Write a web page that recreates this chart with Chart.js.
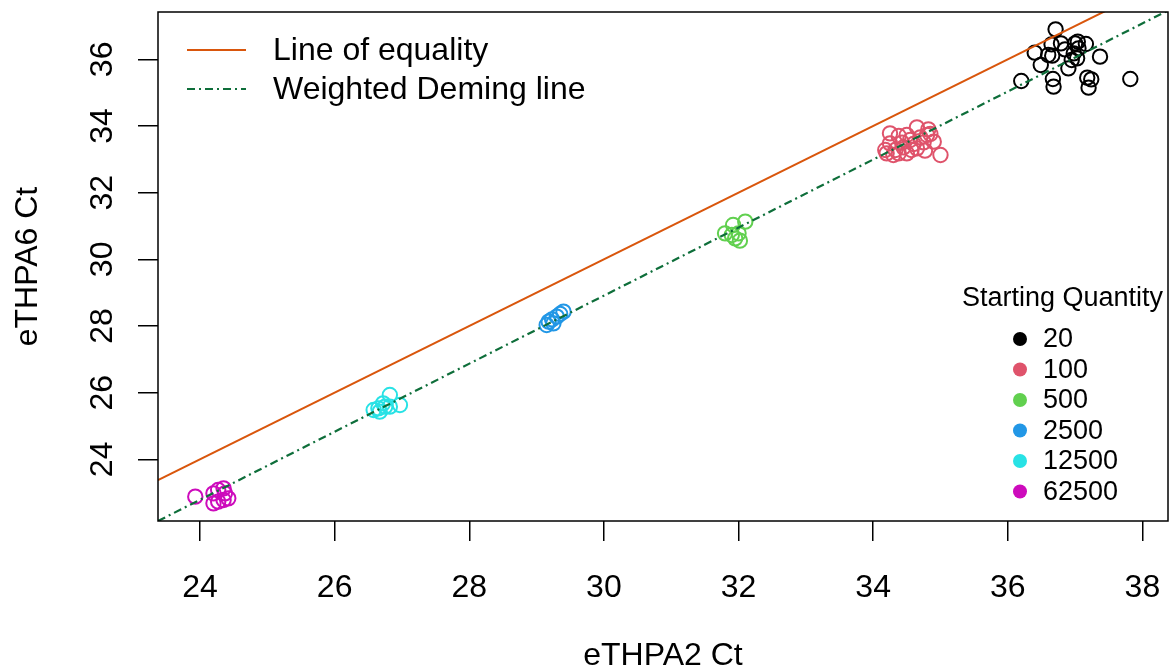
<!DOCTYPE html>
<html>
<head>
<meta charset="utf-8">
<script src="https://cdn.jsdelivr.net/npm/chart.js@4"></script>
<style>
  html, body { margin: 0; padding: 0; background: #fff; overflow: hidden; }
  canvas { display: block; }
</style>
</head>
<body>
<canvas id="ctChart" width="1170" height="672"></canvas>
<script>
const FONT = '"Liberation Sans", Arial, Helvetica, sans-serif';

// Ct values per starting quantity (eTHPA2 on x, eTHPA6 on y)
const quantities = ['20', '100', '500', '2500', '12500', '62500'];
const q20X = [36.71, 36.65, 36.79, 36.40, 36.60, 36.66, 36.85, 37.00, 37.04, 37.16, 37.05, 36.98, 37.03, 36.95, 37.37, 36.49, 36.90, 36.20, 36.67, 36.68, 37.18, 37.24, 37.20, 37.82];
const q20Y = [36.90, 36.45, 36.48, 36.20, 36.13, 36.11, 36.30, 36.48, 36.53, 36.46, 36.33, 36.18, 36.03, 35.98, 36.08, 35.83, 35.73, 35.35, 35.41, 35.18, 35.45, 35.40, 35.15, 35.41];
const q100X = [35.00, 34.65, 34.82, 34.85, 34.25, 34.38, 34.50, 34.70, 34.55, 34.43, 34.25, 34.18, 34.33, 34.45, 34.60, 34.75, 34.65, 34.50, 34.30, 34.77, 34.90, 34.20, 34.38, 34.57, 34.80];
const q100Y = [33.13, 33.96, 33.90, 33.76, 33.78, 33.70, 33.73, 33.66, 33.58, 33.50, 33.48, 33.28, 33.28, 33.36, 33.46, 33.51, 33.33, 33.18, 33.13, 33.26, 33.53, 33.18, 33.18, 33.28, 33.73];
const q500X = [31.80, 31.92, 32.10, 32.00, 31.95, 32.02, 31.90];
const q500Y = [30.78, 31.03, 31.13, 30.78, 30.63, 30.56, 30.73];
const q2500X = [29.18, 29.23, 29.30, 29.35, 29.40, 29.25, 29.15];
const q2500Y = [28.13, 28.20, 28.28, 28.36, 28.43, 28.08, 28.03];
const q12500X = [26.58, 26.65, 26.72, 26.82, 26.97, 26.82, 26.67, 26.75];
const q12500Y = [25.48, 25.53, 25.68, 25.93, 25.63, 25.58, 25.43, 25.58];
const q62500X = [23.93, 24.20, 24.27, 24.35, 24.37, 24.42, 24.27, 24.20, 24.35];
const q62500Y = [22.88, 22.98, 23.08, 23.13, 22.98, 22.83, 22.73, 22.68, 22.78];

const xTicks = [24, 26, 28, 30, 32, 34, 36, 38];
const yTicks = [24, 26, 28, 30, 32, 34, 36];

// weighted Deming fit: eTHPA6 = intercept + slope * eTHPA2
const demingIntercept = -1.71;
const demingSlope = 1.0207;

const xMin = 23.376, xMax = 38.38;
const yMin = 22.15, yMax = 37.42;

const qtyColors = ['#000000', '#DF536B', '#61D04F', '#2297E6', '#28E2E5', '#CD0BBC'];
const eqColor = '#D9560C';
const demingColor = '#0E6E3A';

const groupsX = [q20X, q100X, q500X, q2500X, q12500X, q62500X];
const groupsY = [q20Y, q100Y, q500Y, q2500Y, q12500Y, q62500Y];

const pointSets = quantities.map((q, i) => ({
  type: 'scatter',
  label: q,
  data: groupsX[i].map((x, j) => ({ x: x, y: groupsY[i][j] })),
  borderColor: qtyColors[i],
  backgroundColor: 'rgba(0,0,0,0)',
  borderWidth: 2,
  pointRadius: 7.2,
  pointHoverRadius: 7.2
}));

const lineSets = [
  {
    type: 'line',
    label: 'Line of equality',
    data: [{ x: xMin, y: xMin }, { x: xMax, y: xMax }],
    borderColor: eqColor,
    borderWidth: 2,
    pointRadius: 0
  },
  {
    type: 'line',
    label: 'Weighted Deming line',
    data: [xMin, xMax].map(x => ({ x: x, y: demingIntercept + demingSlope * x })),
    borderColor: demingColor,
    borderWidth: 2.2,
    borderDash: [8, 4, 2, 4],
    pointRadius: 0
  }
];

// box, tick labels (y ones rotated) and both legends
const overlay = {
  id: 'overlay',
  afterDraw(chart) {
    const { ctx, chartArea: a } = chart;
    const { x, y } = chart.scales;
    ctx.save();
    ctx.strokeStyle = '#000';
    ctx.lineWidth = 1.5;
    ctx.setLineDash([]);
    ctx.strokeRect(a.left, a.top, a.right - a.left, a.bottom - a.top);

    ctx.fillStyle = '#000';
    ctx.font = '32px ' + FONT;
    ctx.textAlign = 'center';
    ctx.textBaseline = 'alphabetic';
    xTicks.forEach(v => {
      ctx.fillText(String(v), x.getPixelForValue(v), 597);
    });
    yTicks.forEach(v => {
      ctx.save();
      ctx.translate(112, y.getPixelForValue(v));
      ctx.rotate(-Math.PI / 2);
      ctx.fillText(String(v), 0, 0);
      ctx.restore();
    });

    // line legend, top left
    ctx.textAlign = 'left';
    ctx.textBaseline = 'middle';
    lineSets.forEach((ds, i) => {
      const ly = 50 + i * 39;
      ctx.strokeStyle = ds.borderColor;
      ctx.lineWidth = 2;
      ctx.setLineDash(ds.borderDash || []);
      ctx.beginPath();
      ctx.moveTo(187, ly);
      ctx.lineTo(246, ly);
      ctx.stroke();
      ctx.fillStyle = '#000';
      ctx.fillText(ds.label, 273, ly + 1);
    });
    ctx.setLineDash([]);

    // starting quantity legend, lower right
    ctx.font = '27px ' + FONT;
    ctx.fillText('Starting Quantity', 962, 299);
    quantities.forEach((q, i) => {
      const ly = 339 + i * 30.5;
      ctx.fillStyle = qtyColors[i];
      ctx.beginPath();
      ctx.arc(1020, ly, 7, 0, Math.PI * 2);
      ctx.fill();
      ctx.fillStyle = '#000';
      ctx.fillText(q, 1043, ly + 1);
    });
    ctx.restore();
  }
};

new Chart(document.getElementById('ctChart'), {
  data: { datasets: lineSets.concat(pointSets) },
  options: {
    responsive: false,
    animation: false,
    events: [],
    layout: { autoPadding: false, padding: { top: 12, right: 2, left: 0, bottom: 0 } },
    plugins: { legend: { display: false }, tooltip: { enabled: false } },
    scales: {
      x: {
        type: 'linear',
        min: xMin,
        max: xMax,
        afterBuildTicks: axis => { axis.ticks = xTicks.map(v => ({ value: v })); },
        afterFit: axis => { axis.height = 151; },
        border: { display: false },
        grid: { drawOnChartArea: false, drawTicks: true, tickLength: 20, color: '#000', lineWidth: 1.5 },
        ticks: { display: false },
        title: { display: true, text: 'eTHPA2 Ct', color: '#000', font: { size: 32, family: FONT, lineHeight: 1 }, padding: { top: 0, bottom: 0 } }
      },
      y: {
        type: 'linear',
        min: yMin,
        max: yMax,
        afterBuildTicks: axis => { axis.ticks = yTicks.map(v => ({ value: v })); },
        afterFit: axis => { axis.width = 158; },
        border: { display: false },
        grid: { drawOnChartArea: false, drawTicks: true, tickLength: 20, color: '#000', lineWidth: 1.5 },
        ticks: { display: false },
        title: { display: true, text: 'eTHPA6 Ct', color: '#000', font: { size: 32, family: FONT, lineHeight: 1 }, padding: { top: 12, bottom: 0 } }
      }
    }
  },
  plugins: [overlay]
});
</script>
</body>
</html>
